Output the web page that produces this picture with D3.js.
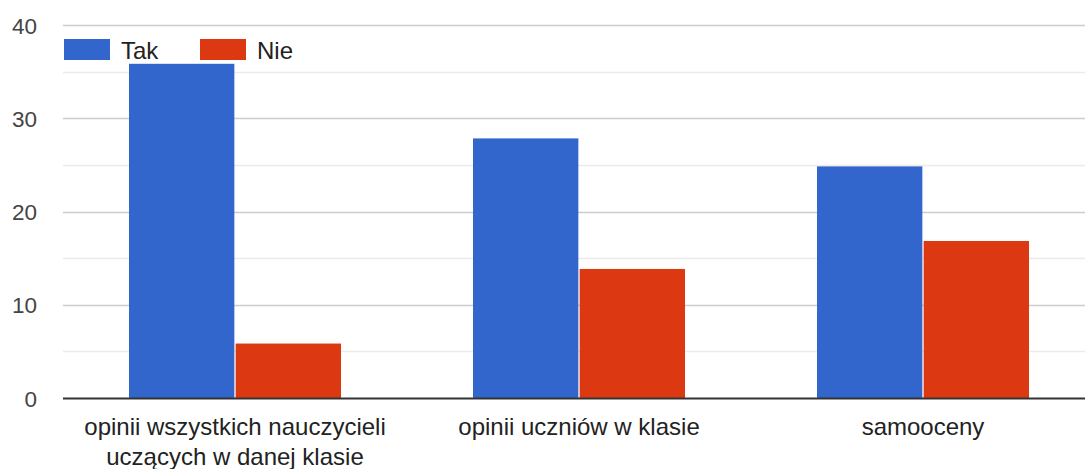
<!DOCTYPE html>
<html>
<head>
<meta charset="utf-8">
<script src="https://cdn.jsdelivr.net/npm/d3@7"></script>
<style>
  html, body { margin: 0; padding: 0; background: #fff; }
  svg { display: block; font-family: "Liberation Sans", Arial, sans-serif; }
</style>
</head>
<body>
<svg id="chart" width="1085" height="469"></svg>
<script>
const categories = ["opinii wszystkich nauczycieli uczących w danej klasie", "opinii uczniów w klasie", "samooceny"];
const seriesNames = ["Tak", "Nie"];
const takValues = [36, 28, 25];
const nieValues = [6, 14, 17];
const seriesColors = ["#3366cc", "#dc3912"];
const majorTicks = [0, 10, 20, 30, 40];
const minorTicks = [5, 15, 25, 35];

const svg = d3.select("#chart");
const W = 1085, H = 469;

const y = d3.scaleLinear().domain([0, 40]).range([398, 25]);
const x0 = d3.scaleBand().domain(categories).range([63, 1095]).paddingInner(0.3837).paddingOuter(0.3837 / 2);
const x1 = d3.scaleBand().domain(seriesNames).range([0, x0.bandwidth()]).paddingInner(0.012);
const color = d3.scaleOrdinal().domain(seriesNames).range(seriesColors);

const rows = categories.map((c, i) => ({ cat: c, values: [takValues[i], nieValues[i]] }));

// minor gridlines
svg.append("g").selectAll("line").data(minorTicks).join("line")
  .attr("x1", 63).attr("x2", W)
  .attr("y1", d => Math.round(y(d)) + 0.5).attr("y2", d => Math.round(y(d)) + 0.5)
  .attr("stroke", "#ebebeb").attr("stroke-width", 1.3);

// major gridlines
svg.append("g").selectAll("line").data(majorTicks.filter(d => d !== 0)).join("line")
  .attr("x1", 63).attr("x2", W)
  .attr("y1", d => Math.round(y(d)) + 0.5).attr("y2", d => Math.round(y(d)) + 0.5)
  .attr("stroke", "#cccccc").attr("stroke-width", 1.3);

// bars
const groups = svg.append("g").selectAll("g").data(rows).join("g")
  .attr("transform", d => `translate(${x0(d.cat)},0)`);
groups.selectAll("rect").data(d => d.values.map((v, i) => ({ s: seriesNames[i], v }))).join("rect")
  .attr("x", d => x1(d.s))
  .attr("width", x1.bandwidth())
  .attr("y", d => y(d.v) + 1.5)
  .attr("height", d => y(0) - y(d.v) - 1.5)
  .attr("fill", d => color(d.s));

// baseline
svg.append("line")
  .attr("x1", 63).attr("x2", W)
  .attr("y1", y(0) + 0.5).attr("y2", y(0) + 0.5)
  .attr("stroke", "#333333").attr("stroke-width", 1.8);

// y tick labels
const yAxis = d3.axisLeft(y).tickValues(majorTicks).tickSize(0).tickPadding(0);
const yg = svg.append("g").attr("transform", "translate(37,0)").call(yAxis);
yg.select(".domain").remove();
yg.selectAll("text")
  .attr("font-size", 22.5).attr("fill", "#444444")
  .attr("font-family", "Liberation Sans, Arial, sans-serif")
  .attr("dy", "0.36em");

// x labels with wrapping
const xAxis = d3.axisBottom(x0).tickSize(0).tickPadding(0);
const xg = svg.append("g").attr("transform", "translate(0,0)").call(xAxis);
xg.select(".domain").remove();
xg.selectAll(".tick text").each(function(d) {
  const t = d3.select(this);
  t.text(null).attr("font-size", 24).attr("fill", "#222222")
    .attr("font-family", "Liberation Sans, Arial, sans-serif")
    .attr("y", 0).attr("dy", null);
  const words = d.split(" ");
  const maxW = 315;
  let line = [];
  let lineNo = 0;
  let tspan = t.append("tspan").attr("x", 0).attr("y", 435);
  words.forEach(w => {
    line.push(w);
    tspan.text(line.join(" "));
    if (tspan.node().getComputedTextLength() > maxW && line.length > 1) {
      line.pop();
      tspan.text(line.join(" "));
      line = [w];
      lineNo++;
      tspan = t.append("tspan").attr("x", 0).attr("y", 435 + lineNo * 30).text(w);
    }
  });
});

// legend
const legendX = [64, 200];
const lg = svg.append("g").selectAll("g").data(seriesNames).join("g")
  .attr("transform", (d, i) => `translate(${legendX[i]},39)`);
lg.append("rect").attr("width", 46).attr("height", 21).attr("fill", d => color(d));
lg.append("text").attr("x", 57).attr("y", 19.5)
  .attr("font-size", 24).attr("fill", "#222222")
  .text(d => d);
</script>
</body>
</html>
